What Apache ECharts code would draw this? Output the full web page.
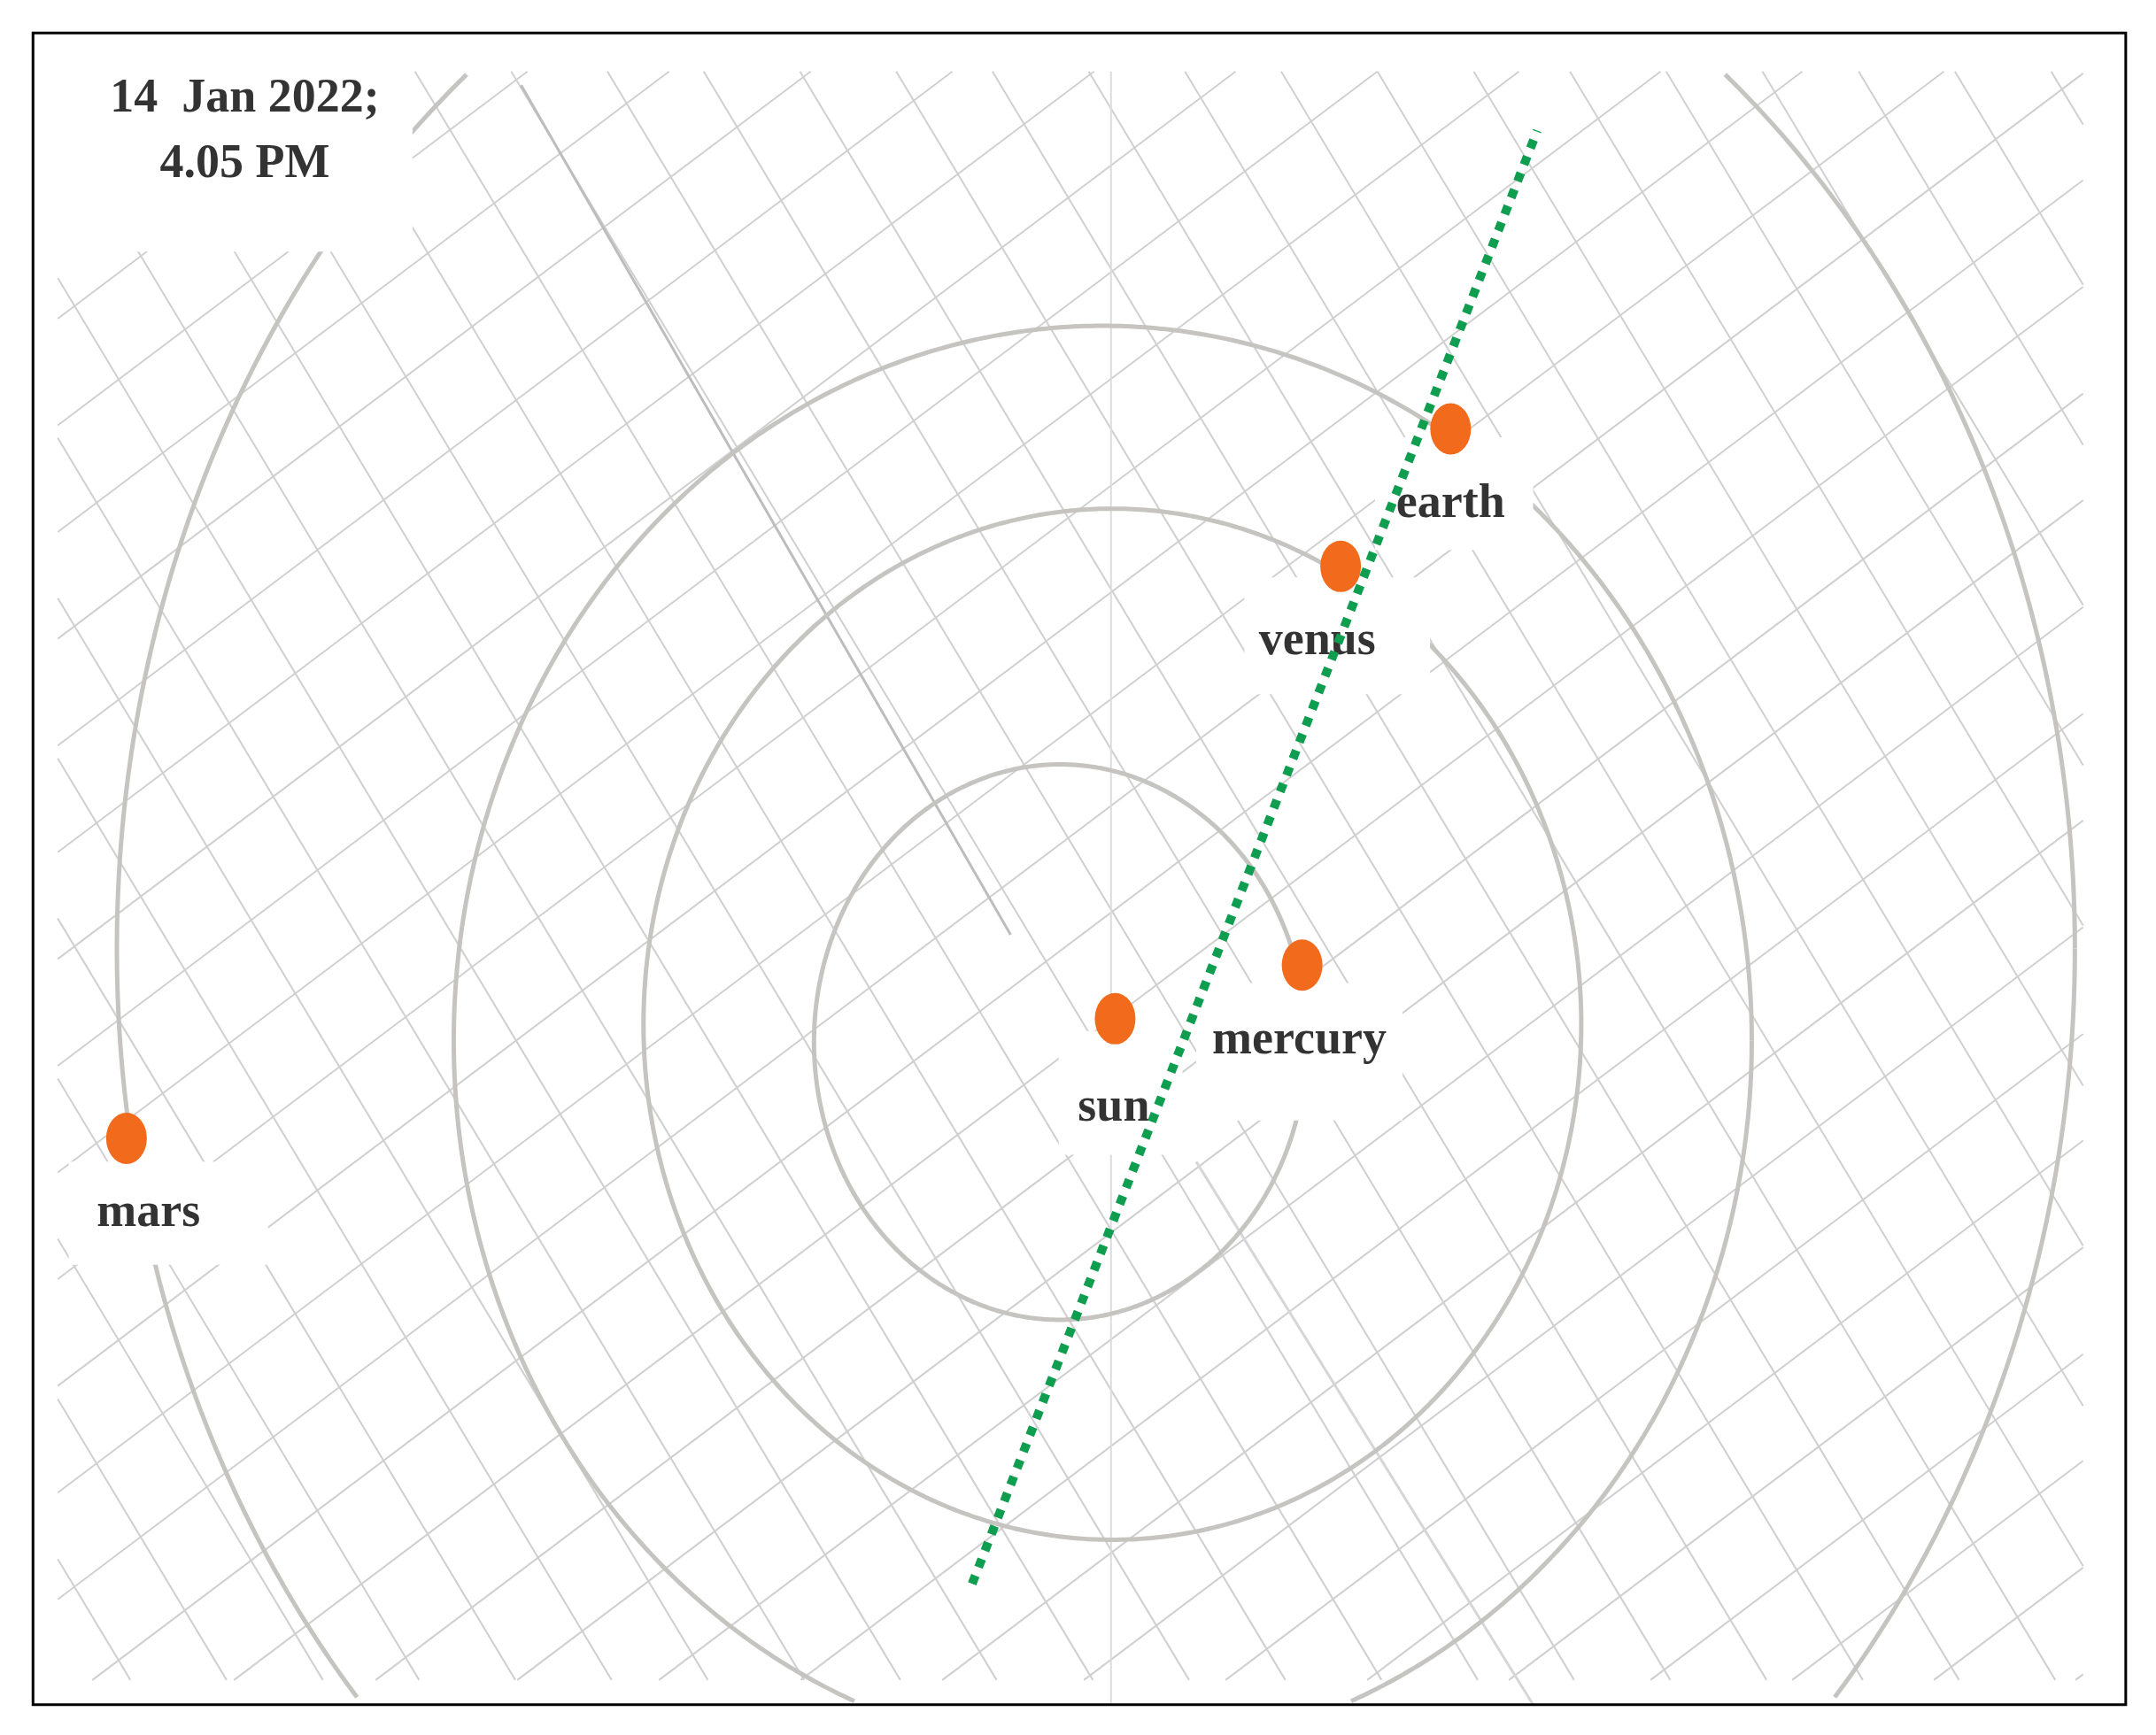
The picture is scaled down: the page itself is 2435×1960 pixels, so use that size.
<!DOCTYPE html>
<html><head><meta charset="utf-8">
<script src="https://cdn.jsdelivr.net/npm/echarts@6/dist/echarts.min.js"></script>
<style>html,body{margin:0;padding:0;background:#fff}#c{width:2435px;height:1960px}</style>
</head><body><div id="c"></div>
<script>
// ---- data (in reference picture units, 1568 x 1262) ----
const planetNames = ['sun','mercury','venus','earth','mars'];
const planetX = [811, 947, 975, 1055, 92];
const planetY = [741, 702, 412, 312, 828];
const labelX = [810, 945, 958, 1055, 108];
const labelY = [806, 757, 467, 367, 883];
const orbitCx = [771, 809, 802, 797];
const orbitCy = [758, 745, 757, 690];
const orbitRx = [179, 341, 472, 712];
const orbitRy = [202, 375, 520, 830];
const alignLineX = [707, 1118];
const alignLineY = [1152, 95];
const titleLines = ['14  Jan 2022;', '4.05 PM'];
const titleX = [178, 178];
const titleY = [72, 120];
// white patches behind labels [x1,y1,x2,y2]
const boxX1 = [24, 1000, 905, 870, 770, 50];
const boxY1 = [24, 318, 420, 715, 750, 845];
const boxX2 = [300, 1115, 1040, 1020, 860, 195];
const boxY2 = [183, 400, 505, 815, 840, 920];

const GRID_ORBIT = '#c6c4c0', GRID_LINE = '#d0d0d0';

function clipSeg(p, d, xmin, ymin, xmax, ymax) {
  let t0 = -1e6, t1 = 1e6;
  const ps = [-d[0], d[0], -d[1], d[1]];
  const qs = [p[0]-xmin, xmax-p[0], p[1]-ymin, ymax-p[1]];
  for (let i=0;i<4;i++){
    if (Math.abs(ps[i])<1e-9){ if (qs[i]<0) return null; continue; }
    const r = qs[i]/ps[i];
    if (ps[i]<0) t0=Math.max(t0,r); else t1=Math.min(t1,r);
  }
  if (t0>t1) return null;
  return [[p[0]+d[0]*t0,p[1]+d[1]*t0],[p[0]+d[0]*t1,p[1]+d[1]*t1]];
}

function renderGrid(params, api) {
  const children = [];
  const fams = [{ang:59, sp:60, ox:379, oy:64},{ang:-37, sp:62, ox:43, oy:231}];
  fams.forEach(f=>{
    const a = f.ang*Math.PI/180, d=[Math.cos(a),Math.sin(a)], n=[-d[1],d[0]];
    for (let k=-50;k<=50;k++){
      const p=[f.ox+n[0]*f.sp*k, f.oy+n[1]*f.sp*k];
      const s = clipSeg(p,d,42,52,1515,1222);
      if (!s) continue;
      const a1=api.coord(s[0]), a2=api.coord(s[1]);
      children.push({type:'line',shape:{x1:a1[0],y1:a1[1],x2:a2[0],y2:a2[1]},style:{stroke:GRID_LINE,lineWidth:2}});
    }
  });
  return {type:'group',children};
}

function renderOrbits(params, api) {
  const children = [];
  for (let i=0;i<orbitCx.length;i++){
    let seg=[];
    const flush=()=>{ if(seg.length>1) children.push({type:'polyline',shape:{points:seg},style:{stroke:GRID_ORBIT,lineWidth:5,fill:null}}); seg=[]; };
    for (let j=0;j<=720;j++){
      const t=j/720*2*Math.PI;
      const x=orbitCx[i]+orbitRx[i]*Math.cos(t), y=orbitCy[i]+orbitRy[i]*Math.sin(t);
      if (x<26||x>1544||y<52||y>1238){ flush(); continue; }
      seg.push(api.coord([x,y]));
    }
    flush();
  }
  return {type:'group',children};
}

function renderBoxes(params, api) {
  const children = boxX1.map((x1,i)=>{
    const a=api.coord([x1,boxY1[i]]), b=api.coord([boxX2[i],boxY2[i]]);
    return {type:'rect',shape:{x:a[0],y:a[1],width:b[0]-a[0],height:b[1]-a[1]},style:{fill:'#fff'}};
  });
  return {type:'group',children};
}

function renderFrame(params, api) {
  const a=api.coord([24,24]), b=api.coord([1546,1240]);
  return {type:'rect',shape:{x:a[0],y:a[1],width:b[0]-a[0],height:b[1]-a[1]},style:{fill:null,stroke:'#000',lineWidth:3}};
}

const chart = echarts.init(document.getElementById('c'));
chart.setOption({
  animation:false,
  backgroundColor:'#fff',
  grid:{left:0,right:0,top:0,bottom:0},
  xAxis:{type:'value',min:0,max:1568,show:false},
  yAxis:{type:'value',min:0,max:1262,inverse:true,show:false},
  series:[
    {type:'custom',renderItem:renderGrid,data:[[0,0]],z:1,silent:true},
    {type:'line',data:[[808,52],[808,1240]],symbol:'none',lineStyle:{color:'#dcdcdc',width:2},z:2,silent:true},
    {type:'line',data:[[379,62],[735,680]],symbol:'none',lineStyle:{color:'#bdbdbd',width:3},z:2,silent:true},
    {type:'line',data:[[870,845],[1115,1240]],symbol:'none',lineStyle:{color:'#d6d6d6',width:3},z:2,silent:true},
    {type:'custom',renderItem:renderOrbits,data:[[0,0]],z:3,silent:true},
    {type:'custom',renderItem:renderBoxes,data:[[0,0]],z:4,silent:true},
    {type:'scatter',data:planetX.map((x,i)=>[x,planetY[i]]),symbol:'circle',symbolSize:[46,58],
      itemStyle:{color:'#f26b1d',opacity:1},z:5},
    {type:'scatter',data:labelX.map((x,i)=>({value:[x,labelY[i]],name:planetNames[i]})),symbolSize:0,z:6,
      label:{show:true,position:'inside',formatter:'{b}',fontFamily:'Liberation Serif',fontWeight:'bold',fontSize:54,color:'#000'}},
    {type:'scatter',data:titleX.map((x,i)=>({value:[x,titleY[i]],name:titleLines[i]})),symbolSize:0,z:6,
      label:{show:true,position:'inside',formatter:'{b}',fontFamily:'Liberation Serif',fontWeight:'bold',fontSize:54,color:'#000'}},
    {type:'line',data:alignLineX.map((x,i)=>[x,alignLineY[i]]),symbol:'none',z:7,
      lineStyle:{color:'#0f9d4f',width:10,type:[10,10]}},
    {type:'custom',renderItem:renderFrame,data:[[0,0]],z:8,silent:true}
  ]
});
</script></body></html>
